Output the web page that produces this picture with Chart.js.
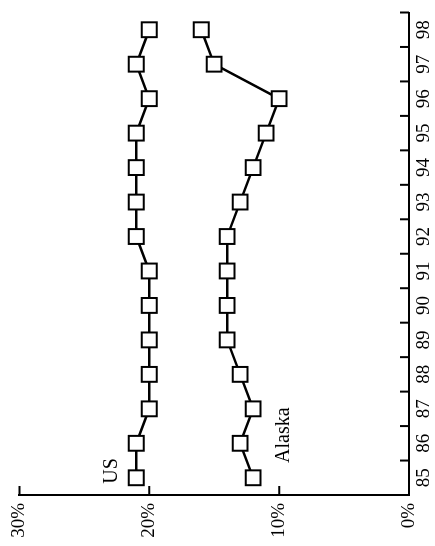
<!DOCTYPE html>
<html>
<head>
<meta charset="utf-8">
<script src="https://cdn.jsdelivr.net/npm/chart.js@4"></script>
<style>
  html, body { margin: 0; padding: 0; background: #fff; overflow: hidden; }
  #wrap {
    position: absolute; left: 0; top: 0;
    width: 546px; height: 435px;
    transform-origin: 0 0;
    transform: translateY(546px) rotate(-90deg);
  }
</style>
</head>
<body>
<div id="wrap"><canvas id="chart" width="546" height="435"></canvas></div>
<script>
// años (eje de categorías)
const years = ['85', '86', '87', '88', '89', '90', '91', '92', '93', '94', '95', '96', '97', '98'];
// porcentajes
const usValues = [21, 21, 20, 20, 20, 20, 20, 21, 21, 21, 21, 20, 21, 20];
const alaskaValues = [12, 13, 12, 13, 14, 14, 14, 14, 13, 12, 11, 10, 15, 16];
const valueTicks = [0, 10, 20, 30];

const FONT = "'Liberation Serif', 'DejaVu Serif', serif";

// marcas cortas hacia dentro en ambos ejes + etiquetas de las series
const inwardTicks = {
    id: 'inwardTicks',
    afterDraw(chart) {
        const ctx = chart.ctx;
        const x = chart.scales.x;
        const y = chart.scales.y;
        const len = 9;
        ctx.save();
        ctx.strokeStyle = '#000';
        ctx.lineWidth = 2;
        ctx.beginPath();
        for (let i = 0; i <= years.length; i++) {
            const px = x.getPixelForValue(i - 0.5);
            ctx.moveTo(px, x.top);
            ctx.lineTo(px, x.top - len);
        }
        valueTicks.forEach((v) => {
            const py = y.getPixelForValue(v);
            ctx.moveTo(y.right, py);
            ctx.lineTo(y.right + len, py);
        });
        ctx.stroke();

        ctx.fillStyle = '#000';
        ctx.font = '20px ' + FONT;
        ctx.textAlign = 'left';
        ctx.textBaseline = 'alphabetic';
        ctx.fillText('US', x.getPixelForValue(-0.17), y.getPixelForValue(22.5));
        ctx.fillText('Alaska', x.getPixelForValue(0.43), y.getPixelForValue(9.26));
        ctx.restore();
    },
};

function createChart() {
    const ctx = document.getElementById('chart').getContext('2d');
    const pointStyle = {
        borderColor: '#000',
        borderWidth: 2.5,
        pointStyle: 'rect',
        pointRadius: 10.5,
        pointBackgroundColor: '#fff',
        pointBorderColor: '#000',
        pointBorderWidth: 2,
        tension: 0,
        fill: false,
    };
    new Chart(ctx, {
        type: 'line',
        data: {
            labels: years,
            datasets: [
                Object.assign({ label: 'US', data: usValues }, pointStyle),
                Object.assign({ label: 'Alaska', data: alaskaValues }, pointStyle),
            ],
        },
        options: {
            responsive: false,
            animation: false,
            events: [],
            layout: { padding: { left: 0, right: 5, top: 17, bottom: 0 } },
            plugins: { legend: { display: false }, tooltip: { enabled: false } },
            scales: {
                x: {
                    type: 'category',
                    offset: true,
                    afterFit: (s) => { s.height = 26; },
                    grid: { display: true, drawOnChartArea: false, drawTicks: false, offset: true },
                    border: { display: true, color: '#000', width: 2 },
                    ticks: {
                        autoSkip: false, maxRotation: 0, padding: 4,
                        color: '#000', font: { family: FONT, size: 19 },
                    },
                },
                y: {
                    min: 0,
                    max: 30,
                    afterFit: (s) => { s.width = 51; },
                    afterBuildTicks: (s) => { s.ticks = valueTicks.map((v) => ({ value: v })); },
                    grid: { display: true, drawOnChartArea: false, drawTicks: false },
                    border: { display: true, color: '#000', width: 2 },
                    ticks: {
                        padding: 8,
                        color: '#000',
                        font: { family: FONT, size: 19 },
                        callback: (v) => v + '%',
                    },
                },
            },
        },
        plugins: [inwardTicks],
    });
}

createChart();
</script>
</body>
</html>
